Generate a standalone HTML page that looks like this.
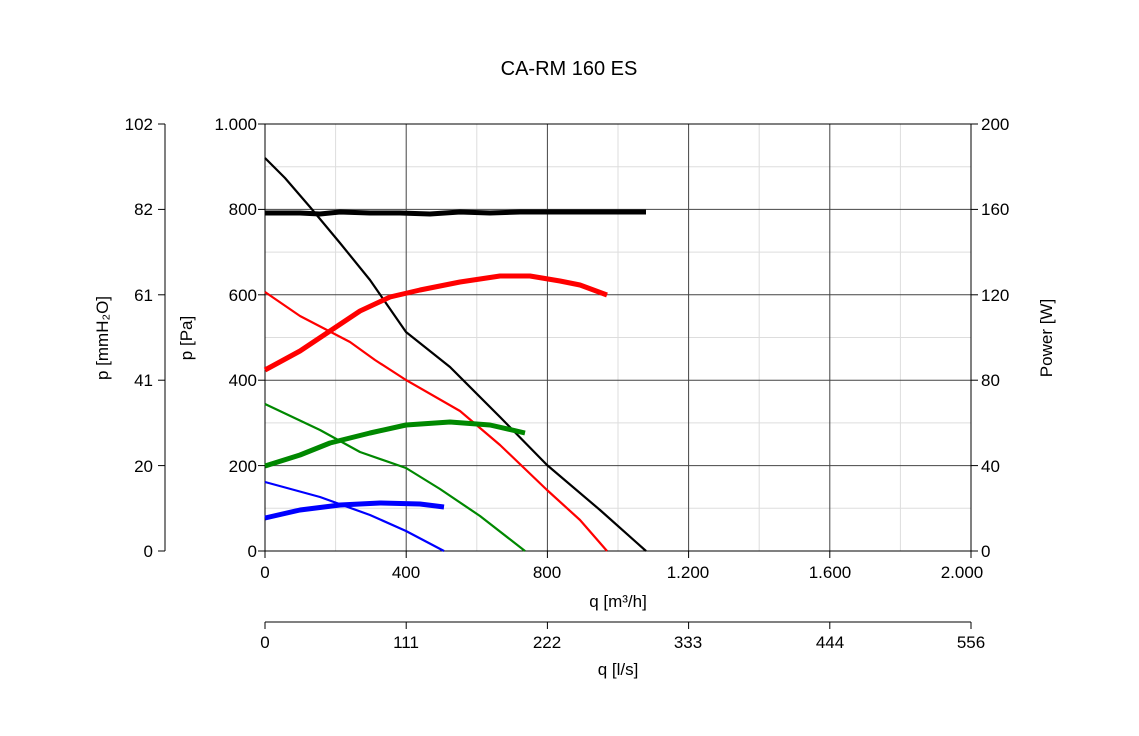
<!DOCTYPE html>
<html><head><meta charset="utf-8"><style>
body{margin:0;background:#fff;}
svg text{font-family:"Liberation Sans",sans-serif;fill:#000;}
</style></head><body>
<svg width="1139" height="731" viewBox="0 0 1139 731" xmlns="http://www.w3.org/2000/svg">
<text x="569" y="75" font-size="20" text-anchor="middle">CA-RM 160 ES</text>
<g stroke="#ddd" stroke-width="1">
<line x1="335.6" y1="124" x2="335.6" y2="551"/><line x1="476.8" y1="124" x2="476.8" y2="551"/>
<line x1="618" y1="124" x2="618" y2="551"/><line x1="759.2" y1="124" x2="759.2" y2="551"/>
<line x1="900.4" y1="124" x2="900.4" y2="551"/>
<line x1="265" y1="166.7" x2="971" y2="166.7"/><line x1="265" y1="252.1" x2="971" y2="252.1"/>
<line x1="265" y1="337.5" x2="971" y2="337.5"/><line x1="265" y1="422.9" x2="971" y2="422.9"/>
<line x1="265" y1="508.3" x2="971" y2="508.3"/>
</g>
<g stroke="#444" stroke-width="1">
<line x1="406.2" y1="124" x2="406.2" y2="551"/><line x1="547.4" y1="124" x2="547.4" y2="551"/>
<line x1="688.6" y1="124" x2="688.6" y2="551"/><line x1="829.8" y1="124" x2="829.8" y2="551"/>
<line x1="265" y1="209.4" x2="971" y2="209.4"/><line x1="265" y1="294.8" x2="971" y2="294.8"/>
<line x1="265" y1="380.2" x2="971" y2="380.2"/><line x1="265" y1="465.6" x2="971" y2="465.6"/>
</g>
<rect x="265" y="124" width="706" height="427" fill="none" stroke="#000" stroke-width="1"/>
<g stroke="#000">
<line x1="165" y1="124" x2="165" y2="551"/>
<line x1="158" y1="124" x2="165" y2="124"/><line x1="158" y1="209.4" x2="165" y2="209.4"/><line x1="158" y1="294.8" x2="165" y2="294.8"/><line x1="158" y1="380.2" x2="165" y2="380.2"/><line x1="158" y1="465.6" x2="165" y2="465.6"/><line x1="158" y1="551" x2="165" y2="551"/>
<line x1="258" y1="124" x2="265" y2="124"/><line x1="258" y1="209.4" x2="265" y2="209.4"/><line x1="258" y1="294.8" x2="265" y2="294.8"/><line x1="258" y1="380.2" x2="265" y2="380.2"/><line x1="258" y1="465.6" x2="265" y2="465.6"/><line x1="258" y1="551" x2="265" y2="551"/>
<line x1="971" y1="124" x2="978" y2="124"/><line x1="971" y1="209.4" x2="978" y2="209.4"/><line x1="971" y1="294.8" x2="978" y2="294.8"/><line x1="971" y1="380.2" x2="978" y2="380.2"/><line x1="971" y1="465.6" x2="978" y2="465.6"/><line x1="971" y1="551" x2="978" y2="551"/>
<line x1="265" y1="551" x2="265" y2="558"/><line x1="406.2" y1="551" x2="406.2" y2="558"/><line x1="547.4" y1="551" x2="547.4" y2="558"/><line x1="688.6" y1="551" x2="688.6" y2="558"/><line x1="829.8" y1="551" x2="829.8" y2="558"/><line x1="971" y1="551" x2="971" y2="558"/>
<line x1="265" y1="622" x2="971" y2="622"/>
<line x1="265" y1="622" x2="265" y2="629"/><line x1="406.2" y1="622" x2="406.2" y2="629"/><line x1="547.4" y1="622" x2="547.4" y2="629"/><line x1="688.6" y1="622" x2="688.6" y2="629"/><line x1="829.8" y1="622" x2="829.8" y2="629"/><line x1="971" y1="622" x2="971" y2="629"/>
</g>
<g font-size="17" text-anchor="end">
<text x="153" y="130">102</text><text x="153" y="215">82</text><text x="153" y="301">61</text><text x="153" y="386">41</text><text x="153" y="472">20</text><text x="153" y="557">0</text>
<text x="257" y="130">1.000</text><text x="257" y="215">800</text><text x="257" y="301">600</text><text x="257" y="386">400</text><text x="257" y="472">200</text><text x="257" y="557">0</text>
</g>
<g font-size="17" text-anchor="start">
<text x="981" y="130">200</text><text x="981" y="215">160</text><text x="981" y="301">120</text><text x="981" y="386">80</text><text x="981" y="472">40</text><text x="981" y="557">0</text>
</g>
<g font-size="17" text-anchor="middle">
<text x="265" y="578">0</text><text x="406" y="578">400</text><text x="547" y="578">800</text><text x="688" y="578">1.200</text><text x="830" y="578">1.600</text><text x="962" y="578">2.000</text>
<text x="618" y="607">q [m³/h]</text>
<text x="265" y="648">0</text><text x="406" y="648">111</text><text x="547" y="648">222</text><text x="688" y="648">333</text><text x="830" y="648">444</text><text x="971" y="648">556</text>
<text x="618" y="675">q [l/s]</text>
</g>
<text font-size="17" transform="translate(108,338) rotate(-90)" text-anchor="middle">p [mmH₂O]</text>
<text font-size="17" transform="translate(192,338) rotate(-90)" text-anchor="middle">p [Pa]</text>
<text font-size="17" transform="translate(1052,338) rotate(-90)" text-anchor="middle">Power [W]</text>
<g fill="none" stroke-width="2.2" stroke-linejoin="round">
<polyline stroke="#000" points="265,158 285,178 310,207 340,243 370,280 406,332 450,367 500,417 547,465 600,510 646,551"/>
<polyline stroke="#f00" points="265,292 300,316 350,342 375,360 406,380 460,411 500,445 547,490 580,520 607,551"/>
<polyline stroke="#080" points="265,404 320,430 360,452 406,468 440,489 480,516 525,551"/>
<polyline stroke="#00f" points="265,482 320,497 370,515 406,531 444,551"/>
</g>
<g fill="none" stroke-width="5" stroke-linejoin="round">
<polyline stroke="#000" points="265,213 300,213 320,214 340,212 370,213 400,213 430,214 460,212 490,213 520,212 560,212 600,212 646,212"/>
<polyline stroke="#f00" points="265,370 300,351 330,331 360,311 390,297 420,290 460,282 500,276 530,276 560,281 580,285 607,295"/>
<polyline stroke="#080" points="265,466 300,455 330,443 370,433 406,425 450,422 490,425 525,433"/>
<polyline stroke="#00f" points="265,518 300,510 340,505 380,503 420,504 444,507"/>
</g>
</svg>
</body></html>
